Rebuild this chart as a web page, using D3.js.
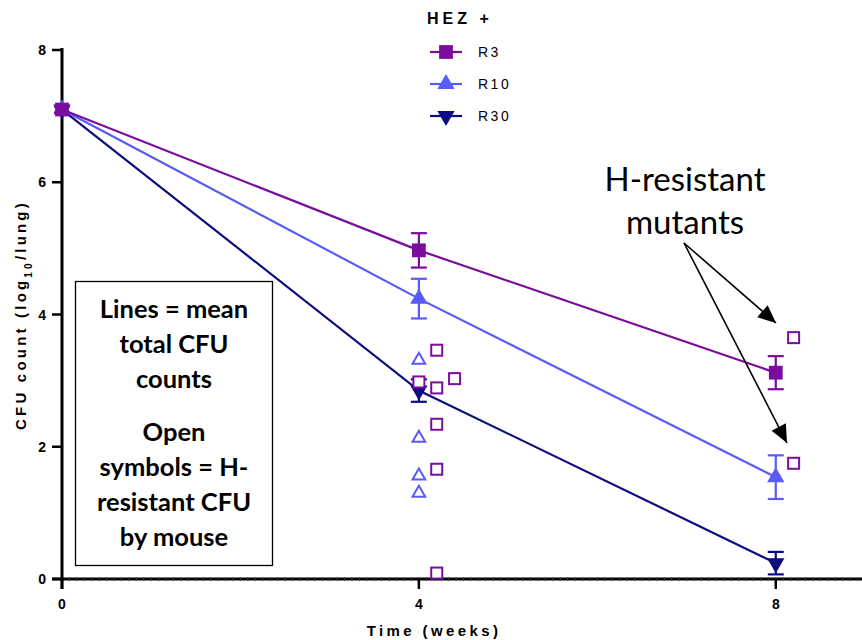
<!DOCTYPE html>
<html>
<head>
<meta charset="utf-8">
<script src="https://cdn.jsdelivr.net/npm/d3@7/dist/d3.min.js"></script>
<style>
  html, body { margin: 0; padding: 0; background: #fff; }
  svg { display: block; }
  .prism { font-family: "Liberation Sans", Arial, sans-serif; font-weight: bold; }
</style>
</head>
<body>
<svg id="chart" width="862" height="640"></svg>
<script>
// Mean total CFU (log10/lung) by regimen, with SD
const weeks = [0, 4, 8];
const r3Mean = [7.1, 4.97, 3.12];
const r3Err = [0.05, 0.26, 0.25];
const r10Mean = [7.1, 4.24, 1.54];
const r10Err = [0.05, 0.30, 0.33];
const r30Mean = [7.1, 2.85, 0.24];
const r30Err = [0.05, 0.17, 0.17];

// H-resistant CFU per mouse (open symbols)
const r3ResWeek = [4.0, 4.2, 4.2, 4.2, 4.2, 4.2, 4.4, 8.2, 8.2];
const r3ResVal = [2.98, 3.46, 2.89, 2.34, 1.66, 0.09, 3.03, 3.65, 1.75];
const r10ResWeek = [4.0, 4.0, 4.0, 4.0];
const r10ResVal = [3.31, 2.13, 1.56, 1.30];

const yTicks = [0, 2, 4, 6, 8];
const xTicks = [0, 4, 8];
const seriesNames = ["R3", "R10", "R30"];
const seriesColors = ["#7a0c9e", "#5a5af5", "#0c0c80"];
const boxLines = ["Lines = mean", "total CFU", "counts", "Open", "symbols = H-", "resistant CFU", "by mouse"];

const svg = d3.select("#chart");
const x = d3.scaleLinear().domain([0, 9]).range([62, 865]);
const y = d3.scaleLinear().domain([0, 8]).range([579, 50]);

const series = [
  { name: seriesNames[0], color: seriesColors[0], mean: r3Mean, err: r3Err, sym: d3.symbolSquare, rot: 0, size: 190 },
  { name: seriesNames[1], color: seriesColors[1], mean: r10Mean, err: r10Err, sym: d3.symbolTriangle, rot: 0, size: 130 },
  { name: seriesNames[2], color: seriesColors[2], mean: r30Mean, err: r30Err, sym: d3.symbolTriangle, rot: 180, size: 130 }
];

// Explanatory box
const box = svg.append("g");
box.append("rect").attr("x", 75.5).attr("y", 281.5).attr("width", 197).attr("height", 284)
  .attr("fill", "#fff").attr("stroke", "#000").attr("stroke-width", 1.3);
const boxY = [318, 353, 388, 441, 476, 511, 546];
box.selectAll("text").data(boxLines).join("text")
  .attr("x", 174).attr("y", (d, i) => boxY[i])
  .attr("text-anchor", "middle")
  .style("font-family", "Lato, 'Open Sans', sans-serif").style("font-weight", "bold").style("font-size", "25.5px")
  .text(d => d);

// Axes
const xAxis = svg.append("g").attr("transform", "translate(0,579)");
xAxis.append("line").attr("x1", 52).attr("x2", 862).attr("stroke", "#000").attr("stroke-width", 3);
xAxis.selectAll("line.minor").data(d3.range(0, 9.01, 1 / 12)).join("line").attr("class", "minor")
  .attr("x1", d => x(d)).attr("x2", d => x(d)).attr("y1", -2).attr("y2", 2)
  .attr("stroke", "#444").attr("stroke-width", 1);
xAxis.selectAll("line.major").data(xTicks).join("line").attr("class", "major")
  .attr("x1", d => x(d)).attr("x2", d => x(d)).attr("y1", 0).attr("y2", 10)
  .attr("stroke", "#000").attr("stroke-width", 2.5);
xAxis.selectAll("text").data(xTicks).join("text").attr("class", "prism")
  .attr("x", d => x(d)).attr("y", 30).attr("text-anchor", "middle")
  .style("font-size", "14px").text(d => d);

const yAxis = svg.append("g").attr("transform", "translate(62,0)");
yAxis.append("line").attr("y1", 48).attr("y2", 589).attr("stroke", "#000").attr("stroke-width", 3);
yAxis.selectAll("line.tick").data(yTicks).join("line").attr("class", "tick")
  .attr("x1", -10).attr("x2", 0).attr("y1", d => y(d)).attr("y2", d => y(d))
  .attr("stroke", "#000").attr("stroke-width", 2.5);
yAxis.selectAll("text").data(yTicks).join("text").attr("class", "prism")
  .attr("x", -16).attr("y", d => y(d) + 5).attr("text-anchor", "end")
  .style("font-size", "14px").text(d => d);

const yTitle = svg.append("text").attr("class", "prism")
  .attr("transform", "translate(26,315) rotate(-90)").attr("text-anchor", "middle")
  .style("font-size", "15px").style("letter-spacing", "3.2px");
yTitle.append("tspan").text("CFU count (log");
yTitle.append("tspan").attr("baseline-shift", "sub").style("font-size", "10px").text("10");
yTitle.append("tspan").text("/lung)");

svg.append("text").attr("class", "prism")
  .attr("x", 434).attr("y", 636).attr("text-anchor", "middle")
  .style("font-size", "15px").style("letter-spacing", "3.4px").text("Time (weeks)");

// Mean lines
const line = d3.line().x((d, i) => x(weeks[i])).y(d => y(d));
series.slice().reverse().forEach(s => {
  svg.append("path").datum(s.mean).attr("d", line)
    .attr("fill", "none").attr("stroke", s.color).attr("stroke-width", 2.2);
});

// Error bars and filled markers
series.slice().reverse().forEach(s => {
  const g = svg.append("g").attr("stroke", s.color).attr("stroke-width", 2.2);
  s.mean.forEach((m, i) => {
    const cx = x(weeks[i]);
    const top = y(m + s.err[i]), bot = y(m - s.err[i]);
    g.append("line").attr("x1", cx).attr("x2", cx).attr("y1", top).attr("y2", bot);
    g.append("line").attr("x1", cx - 8).attr("x2", cx + 8).attr("y1", top).attr("y2", top);
    g.append("line").attr("x1", cx - 8).attr("x2", cx + 8).attr("y1", bot).attr("y2", bot);
  });
  svg.append("g").selectAll("path").data(s.mean).join("path")
    .attr("transform", (d, i) => `translate(${x(weeks[i])},${y(d)}) rotate(${s.rot})`)
    .attr("d", d3.symbol().type(s.sym).size(s.size)).attr("fill", s.color);
});

// Open symbols: H-resistant CFU per mouse
svg.append("g").selectAll("path").data(r10ResVal).join("path")
  .attr("transform", (d, i) => `translate(${x(r10ResWeek[i])},${y(d)})`)
  .attr("d", d3.symbol().type(d3.symbolTriangle).size(70))
  .attr("fill", "#fff").attr("stroke", seriesColors[1]).attr("stroke-width", 2);
svg.append("g").selectAll("rect").data(r3ResVal).join("rect")
  .attr("x", (d, i) => x(r3ResWeek[i]) - 5.5).attr("y", d => y(d) - 5.5)
  .attr("width", 11).attr("height", 11)
  .attr("fill", "#fff").attr("stroke", seriesColors[0]).attr("stroke-width", 2);

// Legend
const legend = svg.append("g");
legend.append("text").attr("class", "prism").attr("x", 427).attr("y", 24)
  .style("font-size", "16px").style("letter-spacing", "4px").text("HEZ +");
series.forEach((s, i) => {
  const ly = 52 + i * 32;
  legend.append("line").attr("x1", 430).attr("x2", 462).attr("y1", ly).attr("y2", ly)
    .attr("stroke", s.color).attr("stroke-width", 2.2);
  legend.append("path").attr("transform", `translate(446,${ly}) rotate(${s.rot})`)
    .attr("d", d3.symbol().type(s.sym).size(s.size)).attr("fill", s.color);
  legend.append("text").attr("x", 478).attr("y", ly + 5)
    .style("font-family", "'Liberation Sans', Arial, sans-serif").style("font-size", "14px")
    .style("letter-spacing", "2.5px").text(s.name);
});

// Annotation with arrows
const ann = svg.append("g").style("font-family", "Lato, 'Open Sans', sans-serif").style("font-size", "33px");
ann.append("text").attr("x", 685).attr("y", 191).attr("text-anchor", "middle").text("H-resistant");
ann.append("text").attr("x", 685).attr("y", 234).attr("text-anchor", "middle").text("mutants");
const arrowTips = [[776, 323], [787, 443]];
arrowTips.forEach(t => {
  const ang = Math.atan2(t[1] - 243, t[0] - 684);
  svg.append("line").attr("x1", 684).attr("y1", 243).attr("x2", t[0]).attr("y2", t[1])
    .attr("stroke", "#000").attr("stroke-width", 1.6);
  const L = 18, W = 8;
  const bx = t[0] - L * Math.cos(ang), by = t[1] - L * Math.sin(ang);
  const px = -Math.sin(ang) * W, py = Math.cos(ang) * W;
  svg.append("path").attr("d", `M${t[0]},${t[1]} L${bx + px},${by + py} L${bx - px},${by - py} Z`).attr("fill", "#000");
});
</script>
</body>
</html>
